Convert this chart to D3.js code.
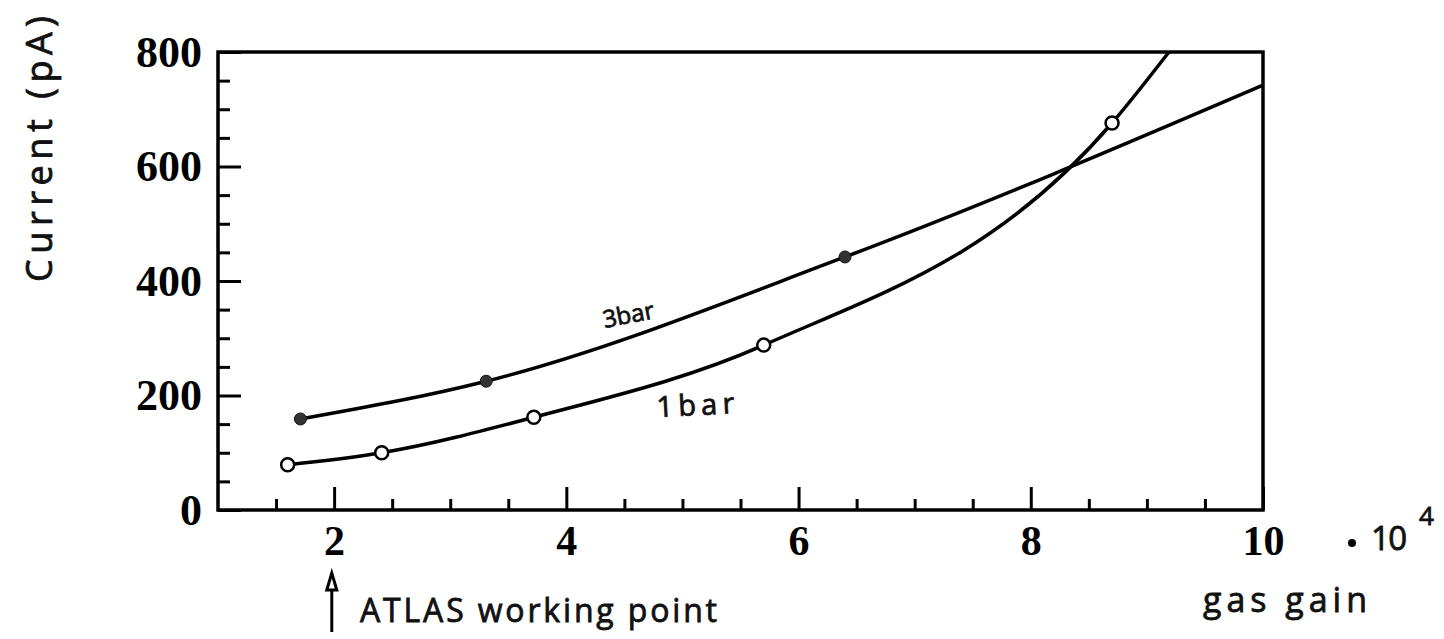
<!DOCTYPE html>
<html>
<head>
<meta charset="utf-8">
<script src="https://cdn.jsdelivr.net/npm/d3@7"></script>
<style>
	body { margin: 0; background: #fff; }
	.axis text { font-family: "Liberation Serif", "Times New Roman", serif; font-weight: bold; fill: #000; }
	.axis line { stroke: #000; stroke-width: 3; }
	.axis .domain { display: none; }
	.hand { font-family: "Open Sans", sans-serif; fill: #111; stroke: #111; stroke-width: 0.8; }
</style>
</head>
<body>
<svg class="chart"></svg>
<script>
/* Current vs gas gain, 1 bar and 3 bar */

// Values (gain in units of 10^4, current in pA)
var seriesNames = ["3bar", "1bar"];
var gain3bar = [1.71, 3.31, 6.40];
var current3bar = [159, 225, 442];
var gain1bar = [1.60, 2.41, 3.72, 5.70, 8.70];
var current1bar = [79, 100, 162, 288, 676];
// where each fitted curve leaves the frame
var fitEnd3bar = [10, 742];
var fitEnd1bar = [9.19, 800];
var xTickLabels = [2, 4, 6, 8, 10];
var yTickLabels = [0, 200, 400, 600, 800];
var xMinorTicks = [1.5, 2.5, 3, 3.5, 4.5, 5, 5.5, 6.5, 7, 7.5, 8.5, 9, 9.5];
var yMinorTicks = [50, 100, 150, 250, 300, 350, 450, 500, 550, 650, 700, 750];
var atlasGain = 1.98;

function drawChart() {
	var margin = {top: 52, right: 181, bottom: 129, left: 218},
		width = 1444 - margin.left - margin.right,
		height = 639 - margin.top - margin.bottom;

	var x = d3.scaleLinear()
		.domain([1, 10])
		.range([0, width]);

	var y = d3.scaleLinear()
		.domain([0, 800])
		.range([height, 0]);

	var svg = d3.select(".chart")
		.attr("width", width + margin.left + margin.right)
		.attr("height", height + margin.top + margin.bottom);

	var chart = svg.append("g")
		.attr("transform", "translate(" + margin.left + "," + margin.top + ")");

	// minor ticks
	chart.append("g")
		.attr("class", "axis")
		.attr("transform", "translate(0," + height + ")")
		.call(d3.axisBottom(x).tickValues(xMinorTicks).tickSize(-11).tickFormat(""));
	chart.append("g")
		.attr("class", "axis")
		.call(d3.axisLeft(y).tickValues(yMinorTicks).tickSize(-12).tickFormat(""));

	// major ticks with labels
	chart.append("g")
		.attr("class", "axis x")
		.attr("transform", "translate(0," + height + ")")
		.call(d3.axisBottom(x).tickValues(xTickLabels).tickSize(-23).tickPadding(15))
		.selectAll("text").style("font-size", "42px");
	chart.append("g")
		.attr("class", "axis y")
		.call(d3.axisLeft(y).tickValues(yTickLabels).tickSize(-23).tickPadding(16))
		.selectAll("text").style("font-size", "44px");

	// frame
	chart.append("rect")
		.attr("width", width)
		.attr("height", height)
		.attr("fill", "none")
		.attr("stroke", "#000")
		.attr("stroke-width", 3.5);

	var line = d3.line()
		.x(function(d) { return x(d[0]); })
		.y(function(d) { return y(d[1]); })
		.curve(d3.curveMonotoneX);

	var pts3 = gain3bar.map(function(g, i) { return [g, current3bar[i]]; });
	var pts1 = gain1bar.map(function(g, i) { return [g, current1bar[i]]; });

	chart.append("path")
		.attr("d", line(pts3.concat([fitEnd3bar])))
		.attr("fill", "none")
		.attr("stroke", "#000")
		.attr("stroke-width", 3.5);
	chart.append("path")
		.attr("d", line(pts1.concat([fitEnd1bar])))
		.attr("fill", "none")
		.attr("stroke", "#000")
		.attr("stroke-width", 3.5);

	chart.selectAll(".dot3")
		.data(pts3)
	  .enter().append("circle")
		.attr("class", "dot3")
		.attr("cx", function(d) { return x(d[0]); })
		.attr("cy", function(d) { return y(d[1]); })
		.attr("r", 6)
		.attr("fill", "#333")
		.attr("stroke", "#111")
		.attr("stroke-width", 1);

	chart.selectAll(".dot1")
		.data(pts1)
	  .enter().append("circle")
		.attr("class", "dot1")
		.attr("cx", function(d) { return x(d[0]); })
		.attr("cy", function(d) { return y(d[1]); })
		.attr("r", 6.5)
		.attr("fill", "#fff")
		.attr("stroke", "#000")
		.attr("stroke-width", 2.5);

	// handwritten labels
	chart.append("text")
		.attr("class", "hand")
		.attr("transform", "translate(" + x(4.33) + "," + y(318) + ") rotate(-11)")
		.style("font-size", "24px")
		.text(seriesNames[0]);
	chart.append("text")
		.attr("class", "hand")
		.attr("transform", "translate(" + x(4.78) + "," + y(162) + ") rotate(-3)")
		.attr("textLength", 78)
		.attr("lengthAdjust", "spacing")
		.style("font-size", "29px")
		.text(seriesNames[1]);

	svg.append("text")
		.attr("class", "hand")
		.attr("transform", "translate(52,282) rotate(-90)")
		.attr("textLength", 266)
		.attr("lengthAdjust", "spacing")
		.style("font-size", "36px")
		.text("Current (pA)");

	// ATLAS working point arrow
	var ax = margin.left + x(atlasGain);
	svg.append("line")
		.attr("x1", ax).attr("x2", ax)
		.attr("y1", 632).attr("y2", 576)
		.attr("stroke", "#000")
		.attr("stroke-width", 3);
	svg.append("path")
		.attr("d", "M" + (ax - 5) + ",590 L" + ax + ",573 L" + (ax + 5) + ",590 Z")
		.attr("fill", "#fff")
		.attr("stroke", "#000")
		.attr("stroke-width", 3);
	svg.append("text")
		.attr("class", "hand")
		.attr("x", 360)
		.attr("y", 622)
		.attr("textLength", 357)
		.attr("lengthAdjust", "spacing")
		.style("font-size", "32px")
		.text("ATLAS working point");

	// axis unit and title
	svg.append("circle")
		.attr("cx", 1352).attr("cy", 543)
		.attr("r", 4)
		.attr("fill", "#000");
	svg.append("text")
		.attr("class", "hand")
		.attr("x", 1371)
		.attr("y", 550)
		.attr("textLength", 36)
		.attr("lengthAdjust", "spacing")
		.style("font-size", "33px")
		.text("10");
	svg.append("text")
		.attr("class", "hand")
		.attr("x", 1419)
		.attr("y", 525)
		.style("font-size", "26px")
		.text("4");
	svg.append("text")
		.attr("class", "hand")
		.attr("x", 1203)
		.attr("y", 612)
		.attr("textLength", 164)
		.attr("lengthAdjust", "spacing")
		.style("font-size", "34px")
		.text("gas gain");
}

drawChart();
</script>
</body>
</html>
